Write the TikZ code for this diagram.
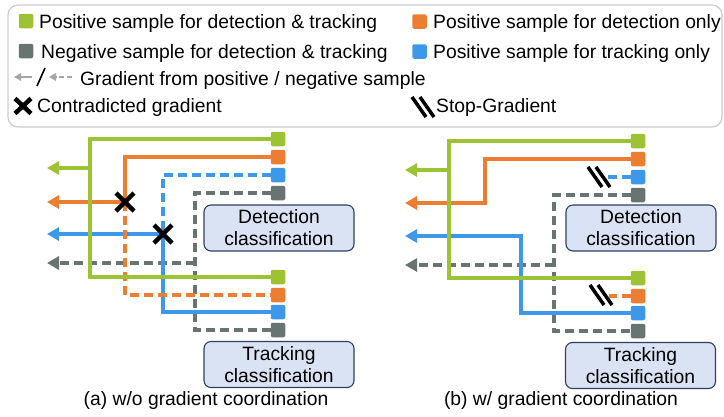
\documentclass[tikz,border=0pt]{standalone}
\usepackage{fontspec}
\setmainfont{Liberation Sans}
\usetikzlibrary{arrows.meta}
\definecolor{cpos}{HTML}{9DC233}
\definecolor{cdet}{HTML}{ED7D31}
\definecolor{ctrk}{HTML}{3D98EA}
\definecolor{cneg}{HTML}{687471}
\definecolor{boxfill}{HTML}{DAE3F3}
\definecolor{boxline}{HTML}{2F3F5F}
\definecolor{legline}{HTML}{CCCCCC}
\definecolor{icongray}{HTML}{A6A6A6}
\tikzset{
  xcross/.pic={\draw[line width=4.5pt,black] (-9,-9) -- (9,9) (-9,9) -- (9,-9);},
  xsmall/.pic={\draw[line width=4.5pt,black] (-8,-7.5) -- (8,7.5) (-8,7.5) -- (8,-7.5);},
  stopgrad/.pic={\draw[line width=3.5pt,black] (-11,-10) -- (3,10) (-3,-10) -- (11,10);}
}
\begin{document}
\begin{tikzpicture}[x=1pt,y=-1pt,
  every node/.style={font=\fontsize{19.3}{22}\selectfont},
  sq/.style={fill=#1,rounded corners=2pt,minimum size=14.5pt,inner sep=0,outer sep=0},
  txt/.style={anchor=base west,inner sep=0},
  cls/.style={draw=boxline,fill=boxfill,line width=1.1pt,rounded corners=7pt,minimum width=150pt,minimum height=46pt,inner sep=0,align=center},
  solid line/.style={line width=3.2pt,draw=#1},
  dash line/.style={line width=3.2pt,draw=#1,dash pattern=on 9pt off 5pt},
  tip/.style={-{Triangle[length=12pt,width=13pt,fill=#1]}},
  small tip/.style={-{Triangle[length=7pt,width=7.5pt]}}]
\useasboundingbox (0,0) rectangle (724,416);

\draw[legline,line width=1.2pt,rounded corners=10pt] (8,5) rectangle (722,127);
\node [sq=cpos] (lg1) at (26,21) {};
\node [txt] (lt1) at (39,28) {Positive sample for detection \& tracking};
\node [sq=cneg] (lg2) at (26,51) {};
\node [txt] (lt2) at (41,58) {Negative sample for detection \& tracking};
\node [sq=cdet] (lg3) at (419.5,21.5) {};
\node [txt] (lt3) at (433,28) {Positive sample for detection only};
\node [sq=ctrk] (lg4) at (419.5,51.5) {};
\node [txt] (lt4) at (433,58) {Positive sample for tracking only};
\coordinate (ic1) at (32,77);
\coordinate (ic2) at (14,77);
\coordinate (ic3) at (37,86);
\coordinate (ic4) at (45,68);
\coordinate (ic5) at (72,77);
\coordinate (ic6) at (49,77);
\draw[icongray,line width=2.4pt,small tip] (ic1) -- (ic2);
\draw[black,line width=1.6pt] (ic3) -- (ic4);
\draw[icongray,line width=2.4pt,dash pattern=on 5pt off 3pt,small tip] (ic5) -- (ic6);
\node [txt] (lt5) at (80,85) {Gradient from positive / negative sample};
\pic at (23,106) {xsmall};
\node [txt] (lt6) at (37,112) {Contradicted gradient};
\pic at (423,107) {stopgrad};
\node [txt] (lt7) at (436,112) {Stop-Gradient};

\node [cls] (deta) at (279,228) {Detection\\classification};
\node [cls] (trka) at (279,364.5) {Tracking\\classification};
\node [sq=cpos] (da1) at (278,139) {};
\node [sq=cdet] (da2) at (278,157) {};
\node [sq=ctrk] (da3) at (278,175) {};
\node [sq=cneg] (da4) at (278,193) {};
\node [sq=cpos] (ta1) at (278,277) {};
\node [sq=cdet] (ta2) at (278,295) {};
\node [sq=ctrk] (ta3) at (278,312) {};
\node [sq=cneg] (ta4) at (278,330) {};
\coordinate (ja1) at (90,168);
\coordinate (ja2) at (125,202);
\coordinate (ja3) at (163,234);
\coordinate (ja4) at (195,263);
\coordinate (ea1) at (47,168);
\coordinate (ea2) at (47,202);
\coordinate (ea3) at (47,234);
\coordinate (ea4) at (47,263);
\draw[dash line=cneg] (da4.west) -| (ja4) |- (ta4.west);
\draw[dash line=cneg,tip=cneg] (ja4) -- (ea4);
\draw[dash line=ctrk] (da3.west) -| (ja3);
\draw[solid line=ctrk] (ja3) |- (ta3.west);
\draw[solid line=ctrk,tip=ctrk] (ja3) -- (ea3);
\draw[solid line=cdet] (da2.west) -| (ja2);
\draw[dash line=cdet] (ja2) |- (ta2.west);
\draw[solid line=cdet,tip=cdet] (ja2) -- (ea2);
\draw[solid line=cpos] (da1.west) -| (ja1) |- (ta1.west);
\draw[solid line=cpos,tip=cpos] (ja1) -- (ea1);
\pic at (ja2) {xcross};
\pic at (ja3) {xcross};
\node (capa) at (206,401) {(a) w/o gradient coordination};

\node [cls] (detb) at (641,228) {Detection\\classification};
\node [cls] (trkb) at (640.5,365.5) {Tracking\\classification};
\node [sq=cpos] (db1) at (638,141) {};
\node [sq=cdet] (db2) at (638,159) {};
\node [sq=ctrk] (db3) at (638,177) {};
\node [sq=cneg] (db4) at (638,195) {};
\node [sq=cpos] (tb1) at (638,278) {};
\node [sq=cdet] (tb2) at (638,296) {};
\node [sq=ctrk] (tb3) at (638,313) {};
\node [sq=cneg] (tb4) at (638,331) {};
\coordinate (jb1) at (449,170);
\coordinate (kb2) at (485,203);
\coordinate (kb3) at (521,236);
\coordinate (jb4) at (554,265);
\coordinate (eb1) at (405,170);
\coordinate (eb2) at (405,203);
\coordinate (eb3) at (405,236);
\coordinate (eb4) at (405,265);
\coordinate (sb2) at (609,296);
\coordinate (sb3) at (607,177);
\draw[dash line=cneg] (db4.west) -| (jb4) |- (tb4.west);
\draw[dash line=cneg,tip=cneg] (jb4) -- (eb4);
\draw[solid line=ctrk,tip=ctrk] (tb3.west) -| (kb3) -- (eb3);
\draw[solid line=cdet,tip=cdet] (db2.west) -| (kb2) -- (eb2);
\draw[solid line=cpos] (db1.west) -| (jb1) |- (tb1.west);
\draw[solid line=cpos,tip=cpos] (jb1) -- (eb1);
\draw[dash line=ctrk] (db3.west) -- (sb3);
\draw[dash line=cdet] (tb2.west) -- (sb2);
\pic at (599,177) {stopgrad};
\pic at (601,295) {stopgrad};
\node (capb) at (561,401) {(b) w/ gradient coordination};
\end{tikzpicture}
\end{document}
